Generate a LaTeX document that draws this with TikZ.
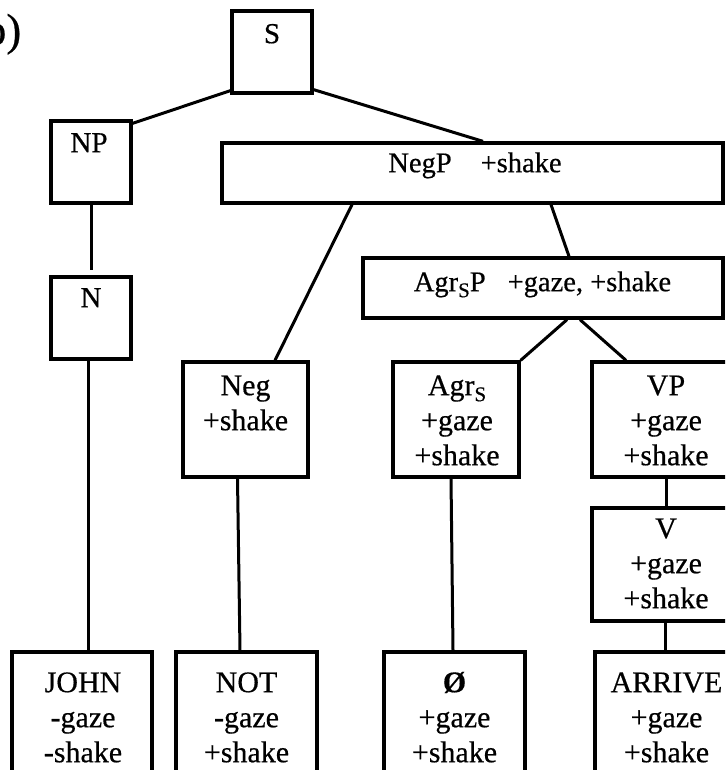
\documentclass[tikz,border=0pt]{standalone}
\usepackage{fontspec}
\setmainfont{Liberation Serif}[FakeBold=0.5]
\usetikzlibrary{calc}
% lowered subscript S used in Agr_S
\newcommand\subS{\raisebox{-6pt}{\fontsize{21}{21}\selectfont S}}
% fixes the height of a label's first line so its baseline is predictable
\newcommand\capline{\rule{0pt}{21pt}}

\begin{document}
\begin{tikzpicture}[x=1pt,y=-1pt,
  box/.style={draw, line width=3.3pt, inner sep=0pt},
  conn/.style={line width=3pt},
  lbl/.style={anchor=north, inner sep=0pt, align=center, font={\fontsize{30}{35}\selectfont}},
  wide/.style={anchor=north, inner sep=0pt, font={\fontsize{28.5}{35}\selectfont}},
  tag/.style={anchor=north, inner sep=0pt, font={\fontsize{29}{35}\selectfont}}
]
\useasboundingbox (0,0) rectangle (725,770);
\fill[white] (0,0) rectangle (725,770);
\clip (0,0) rectangle (725,770);

% panel letter
\node[anchor=base east, inner sep=0pt, font={\fontsize{45}{50}\selectfont}] (panel) at (21.5,45) {b)};

% boxes
\node[box, minimum width=80pt, minimum height=82pt] (S) at (272,52) {};
\node[box, minimum width=80pt, minimum height=82pt] (NP) at (91,162) {};
\node[box, minimum width=80pt, minimum height=82pt] (N) at (91,318) {};
\node[box, minimum width=501pt, minimum height=60pt] (NegP) at (472.5,173) {};
\node[box, minimum width=360pt, minimum height=60pt] (AgrSP) at (543,288) {};
\node[box, minimum width=125pt, minimum height=115pt] (Neg) at (245.5,419.5) {};
\node[box, minimum width=126pt, minimum height=115pt] (AgrS) at (456,419.5) {};
\node[box, minimum width=148pt, minimum height=115pt] (VP) at (666,419.5) {};
\node[box, minimum width=148pt, minimum height=113pt] (V) at (666,564.5) {};
\node[box, minimum width=140pt, minimum height=148pt] (JOHN) at (82,726) {};
\node[box, minimum width=141pt, minimum height=148pt] (NOT) at (246.5,726) {};
\node[box, minimum width=141pt, minimum height=148pt] (NULL) at (454.5,726) {};
\node[box, minimum width=141pt, minimum height=148pt] (ARR) at (665.5,726) {};

% labels (y = first baseline - 21)
\node[tag] (tS) at (272,43-21) {\capline S};
\node[tag] (tNP) at (89,152-21) {\capline NP};
\node[tag] (tN) at (91,307-21) {\capline N};
\node[wide] (tNegP) at (475,172-21) {\capline NegP\hspace{29pt}+shake};
\node[wide] (tAgrSP) at (542.5,291-21) {\capline Agr\subS P\hspace{22pt}+gaze, +shake};
\node[lbl] (tNeg) at (245.5,395-21) {\capline Neg\\+shake};
\node[lbl] (tAgrS) at (457,395-21) {\capline Agr\subS\\+gaze\\+shake};
\node[lbl] (tVP) at (666,395-21) {\capline VP\\+gaze\\+shake};
\node[lbl] (tV) at (666,538-21) {\capline V\\+gaze\\+shake};
\node[lbl] (tJOHN) at (83,692-21) {\capline JOHN\\-gaze\\-shake};
\node[lbl] (tNOT) at (246.5,692-21) {\capline NOT\\-gaze\\+shake};
\node[lbl] (tNULL) at (454.5,692-21) {\capline \textbf{Ø}\\+gaze\\+shake};
\node[lbl] (tARR) at (666.5,692-21) {\capline ARRIVE\\+gaze\\+shake};

% tree branches
\draw[conn] ([yshift=4pt]S.south west) -- ([yshift=-4pt]NP.north east);
\draw[conn] ([yshift=5pt]S.south east) -- ([xshift=10.5pt]NegP.north);
\draw[conn] (NP.south) -- ([yshift=5pt]N.north);
\draw[conn] ([xshift=-3pt]N.south) -- ([xshift=6pt]JOHN.north);
\draw[conn] ([xshift=-120.5pt]NegP.south) -- ([xshift=29.5pt]Neg.north);
\draw[conn] ([xshift=78.5pt]NegP.south) -- ([xshift=26pt]AgrSP.north);
\draw[conn] ([xshift=24pt]AgrSP.south) -- (AgrS.north east);
\draw[conn] ([xshift=37pt]AgrSP.south) -- ([xshift=-40pt]VP.north);
\draw[conn] ([xshift=-8pt]Neg.south) -- ([xshift=-6.5pt]NOT.north);
\draw[conn] ([xshift=-5pt]AgrS.south) -- ([xshift=-1.5pt]NULL.north);
\draw[conn] (VP.south) -- (V.north);
\draw[conn] ([xshift=-1pt]V.south) -- ([xshift=-0.5pt]ARR.north);
\end{tikzpicture}
\end{document}
